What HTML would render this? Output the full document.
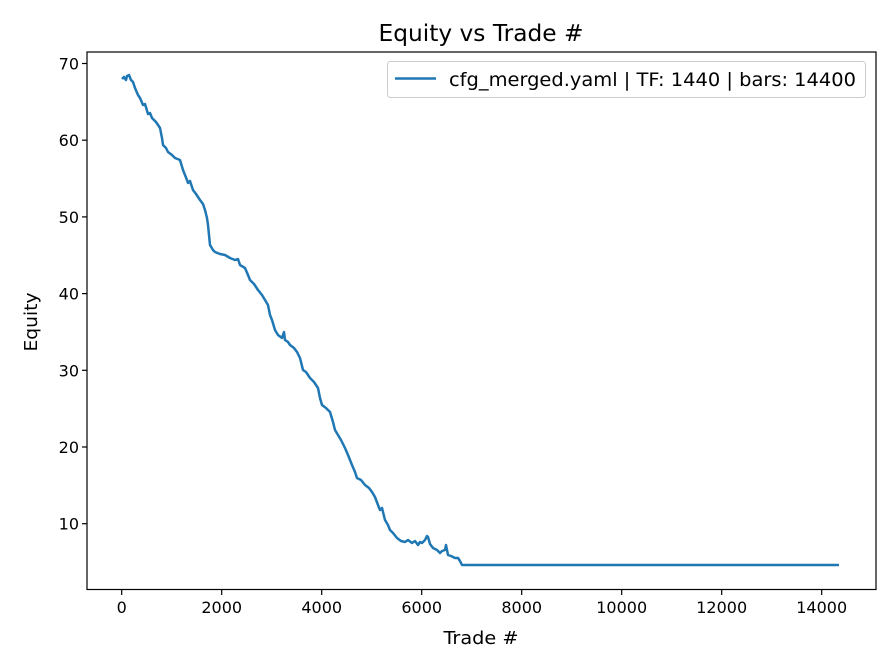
<!DOCTYPE html>
<html><head><style>body{margin:0;background:#fff}svg{display:block}text{font-family:"DejaVu Sans","Liberation Sans",sans-serif;fill:#000}</style></head><body>
<svg width="896" height="672" xmlns="http://www.w3.org/2000/svg">
<rect width="896" height="672" fill="#fff"/>
<text x="481" y="41" font-size="23" text-anchor="middle" textLength="205" lengthAdjust="spacingAndGlyphs">Equity vs Trade #</text>
<polyline fill="none" stroke="#1f77b4" stroke-width="2.5" stroke-linejoin="round" points="122,79 124,77 126,80 127,76 129,75 131,80 133,82 135,88 138,95 140,98 143,105 145,104 148,114 150,113 152,118 156,122 160,128 162,138 163,145 166,148 168,152 172,155 175,158 180,160 183,170 185,175 187,180 188,183 190,181 193,190 196,194 200,200 203,204 205,210 207,218 208,225 210,245 213,250 215,252 220,254 225,255 230,258 235,260 238,259 240,265 245,268 248,275 250,280 254,284 258,290 262,295 265,300 268,305 270,315 272,320 275,330 278,335 282,338 284,332 285,340 288,342 290,345 294,348 297,352 300,358 303,370 306,372 310,378 314,382 318,388 320,398 322,405 326,408 330,412 333,422 335,430 338,435 341,440 345,448 348,455 352,465 355,472 357,478 361,480 365,485 369,488 372,492 375,497 378,505 380,510 382,508 385,520 388,525 390,530 393,533 397,538 401,541 405,542 408,540 412,543 415,541 418,545 420,542 422,543 425,540 427,536 428,537 430,544 433,548 437,550 440,553 442,551 445,550 446,545 448,555 451,556 455,558 458,558 460,561 462,565 839,565"/>
<rect x="87" y="52" width="789" height="537.5" fill="none" stroke="#000" stroke-width="1.2"/>
<g stroke="#000" stroke-width="1.2">
<line x1="82" x2="87" y1="63.5" y2="63.5"/><line x1="82" x2="87" y1="140.2" y2="140.2"/><line x1="82" x2="87" y1="216.9" y2="216.9"/><line x1="82" x2="87" y1="293.6" y2="293.6"/><line x1="82" x2="87" y1="370.3" y2="370.3"/><line x1="82" x2="87" y1="447" y2="447"/><line x1="82" x2="87" y1="523.7" y2="523.7"/>
<line y1="589.5" y2="595" x1="121.7" x2="121.7"/><line y1="589.5" y2="595" x1="221.7" x2="221.7"/><line y1="589.5" y2="595" x1="321.7" x2="321.7"/><line y1="589.5" y2="595" x1="421.7" x2="421.7"/><line y1="589.5" y2="595" x1="521.7" x2="521.7"/><line y1="589.5" y2="595" x1="621.7" x2="621.7"/><line y1="589.5" y2="595" x1="721.7" x2="721.7"/><line y1="589.5" y2="595" x1="821.7" x2="821.7"/>
</g>
<g font-size="16" text-anchor="end">
<text x="79" y="69.5">70</text><text x="79" y="146.2">60</text><text x="79" y="222.9">50</text><text x="79" y="299.6">40</text><text x="79" y="376.3">30</text><text x="79" y="453">20</text><text x="79" y="529.7">10</text>
</g>
<g font-size="16" text-anchor="middle">
<text x="121.7" y="613">0</text><text x="221.7" y="613">2000</text><text x="321.7" y="613">4000</text><text x="421.7" y="613">6000</text><text x="521.7" y="613">8000</text><text x="621.7" y="613">10000</text><text x="721.7" y="613">12000</text><text x="821.7" y="613">14000</text>
</g>
<text x="481" y="644" font-size="18" text-anchor="middle" textLength="75" lengthAdjust="spacingAndGlyphs">Trade #</text>
<text x="37" y="322" font-size="18" text-anchor="middle" transform="rotate(-90 37 322)" textLength="59" lengthAdjust="spacingAndGlyphs">Equity</text>
<rect x="387.5" y="61.5" width="478" height="36" rx="3" fill="#fff" stroke="#ccc" stroke-width="1"/>
<line x1="395" x2="436" y1="78.5" y2="78.5" stroke="#1f77b4" stroke-width="2.5"/>
<text x="449" y="86" font-size="19" textLength="407" lengthAdjust="spacingAndGlyphs">cfg_merged.yaml | TF: 1440 | bars: 14400</text>
</svg>
</body></html>
